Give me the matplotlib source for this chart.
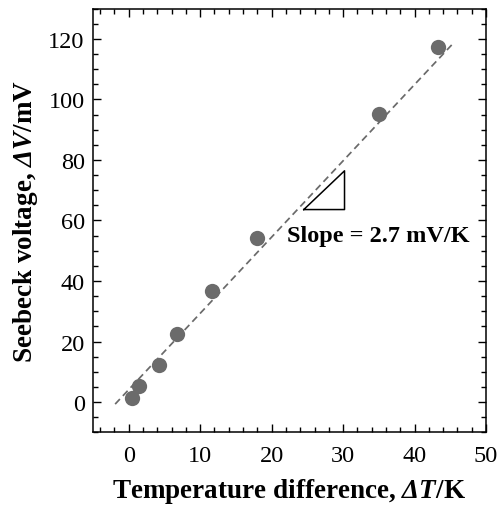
import numpy as np
import matplotlib
matplotlib.use('Agg')
import matplotlib.pyplot as plt
from matplotlib.ticker import MultipleLocator

### data

delta_T = [0.5, 1.4, 4.2, 6.8, 11.6, 17.9, 35.0, 43.3]
delta_V = [1.3, 5.2, 12.3, 22.5, 36.6, 54.3, 95.3, 117.3]

# dashed fit line
fit_slope = 2.52
fit_intercept = 4.1
fit_range = [-1.9, 45.4]

# slope triangle corners
tri_x = [24.5, 30.2, 30.2, 24.5]
tri_y = [63.6, 76.4, 63.6, 63.6]
slope_text = 'Slope = 2.7 mV/K'

### style

plt.rcParams['font.family'] = 'Liberation Serif'
# math part (Delta T, Delta V) in bold italic, incl. the capital Greek
plt.rcParams['mathtext.fontset'] = 'custom'
plt.rcParams['mathtext.rm'] = 'Liberation Serif:bold:italic'
plt.rcParams['mathtext.it'] = 'Liberation Serif:bold:italic'
plt.rcParams['mathtext.bf'] = 'Liberation Serif:bold:italic'

fig = plt.figure(figsize=(5.0, 5.06), dpi=100)
ax = fig.add_axes([0.186, 0.1437, 0.786, 0.8373])

fx = np.array(fit_range)
ax.plot(fx, fit_slope * fx + fit_intercept, ls=(0, (4, 2.5)), color='#6a6a6a', lw=1.25, zorder=2)
ax.plot(delta_T, delta_V, 'o', ms=11, color='#6b6b6b', mec='none', zorder=3)
ax.plot(tri_x, tri_y, color='black', lw=1.1, zorder=2)
ax.text(22.2, 55.1, slope_text, fontsize=17.5, fontweight='bold', ha='left', va='center')

ax.set_xlim(-5, 50)
ax.set_ylim(-10, 130)
ax.xaxis.set_major_locator(MultipleLocator(10))
ax.xaxis.set_minor_locator(MultipleLocator(2))
ax.yaxis.set_major_locator(MultipleLocator(20))
ax.yaxis.set_minor_locator(MultipleLocator(5))
ax.tick_params(which='both', direction='in', top=True, right=True, width=1)
ax.tick_params(which='major', length=6, labelsize=17.5)
ax.tick_params(axis='x', which='major', pad=9)
ax.tick_params(axis='y', which='major', pad=6)
ax.tick_params(which='minor', length=3.5)
for s in ax.spines.values():
    s.set_linewidth(1.1)

ax.set_xlabel(r'Temperature difference, $\Delta T$/K', fontsize=19.5, fontweight='bold', labelpad=7.5)
ax.set_ylabel(r'Seebeck voltage, $\Delta V$/mV', fontsize=19.5, fontweight='bold', labelpad=6)

fig.savefig('out.png', dpi=100)
